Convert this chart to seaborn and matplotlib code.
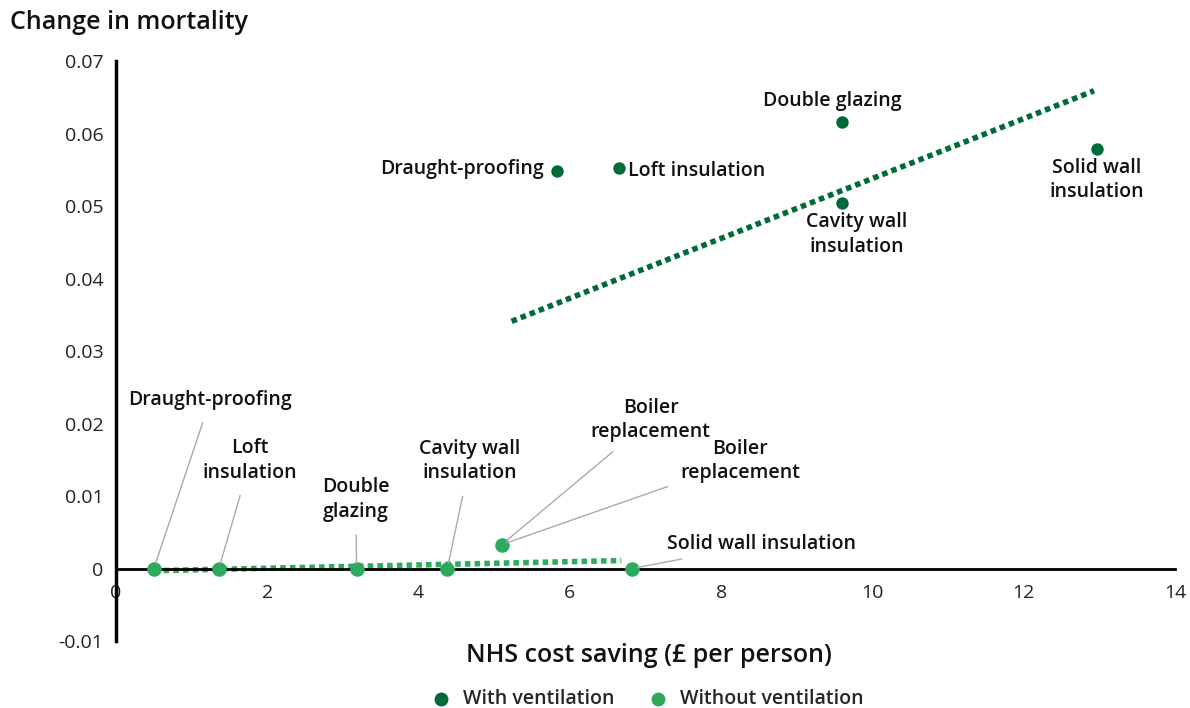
import pandas as pd
import seaborn as sns
import matplotlib.pyplot as plt

# measures
with_names = ['Draught-proofing', 'Loft insulation', 'Double glazing',
              'Cavity wall insulation', 'Solid wall insulation']
with_cost = [5.83, 6.65, 9.60, 9.60, 12.97]
with_mort = [0.0548, 0.0552, 0.0616, 0.0504, 0.0579]

without_names = ['Draught-proofing', 'Loft insulation', 'Double glazing',
                 'Cavity wall insulation', 'Boiler replacement', 'Solid wall insulation']
without_cost = [0.50, 1.36, 3.18, 4.38, 5.10, 6.82]
without_mort = [0.0, 0.0, 0.0, 0.0, 0.0033, 0.0]

# trend lines (end points)
with_trend_x = [5.23, 12.93]
with_trend_y = [0.0341, 0.0659]
without_trend_x = [0.50, 6.68]
without_trend_y = [-0.0003, 0.0011]

x_ticks = [0, 2, 4, 6, 8, 10, 12, 14]
y_ticks = [-0.01, 0, 0.01, 0.02, 0.03, 0.04, 0.05, 0.06, 0.07]
y_tick_labels = ['-0.01', '0', '0.01', '0.02', '0.03', '0.04', '0.05', '0.06', '0.07']

DARK = '#006a38'
LIGHT = '#2eaa5e'

df = pd.concat([
    pd.DataFrame({'cost': with_cost, 'mort': with_mort, 'name': with_names,
                  'group': 'With ventilation'}),
    pd.DataFrame({'cost': without_cost, 'mort': without_mort, 'name': without_names,
                  'group': 'Without ventilation'}),
], ignore_index=True)

sns.set_style('white')
plt.rcParams['font.family'] = ['Open Sans', 'DejaVu Sans']

fig = plt.figure(figsize=(11.9, 7.08), dpi=100)
ax = fig.add_axes([0.0975, 0.0946, 0.8899, 0.8192])

# trend lines
ax.plot(with_trend_x, with_trend_y, color=DARK, lw=4, linestyle=(0, (1, 0.75)),
        solid_capstyle='butt', zorder=2)
ax.plot(without_trend_x, without_trend_y, color=LIGHT, lw=4, linestyle=(0, (1, 0.75)),
        solid_capstyle='butt', zorder=2)

sns.scatterplot(data=df[df.group == 'With ventilation'], x='cost', y='mort',
                color=DARK, s=80, linewidth=0, ax=ax, zorder=3,
                label='With ventilation')
sns.scatterplot(data=df[df.group == 'Without ventilation'], x='cost', y='mort',
                color=LIGHT, s=110, linewidth=0, ax=ax, zorder=3,
                label='Without ventilation')

ax.set_xlim(0, 14)
ax.set_ylim(-0.01, 0.07)
ax.set_xticks(x_ticks)
ax.set_xticklabels([str(t) for t in x_ticks])
ax.set_yticks(y_ticks)
ax.set_yticklabels(y_tick_labels)
ax.tick_params(axis='both', length=0, labelsize=14, colors='#222222')
ax.tick_params(axis='x', pad=11)
ax.tick_params(axis='y', pad=9)
ax.set_xlabel('')
ax.set_ylabel('')

for s in ['top', 'right']:
    ax.spines[s].set_visible(False)
ax.spines['bottom'].set_position(('data', 0))
ax.spines['left'].set_position(('data', 0))
ax.spines['bottom'].set_linewidth(2)
ax.spines['left'].set_linewidth(2.5)
ax.spines['bottom'].set_color('black')
ax.spines['left'].set_color('black')

lab_kw = dict(fontsize=14, fontweight='semibold', color='#111111')

# labels for with-ventilation points (placed next to the dots)
with_label_text = ['Draught-proofing', 'Loft insulation', 'Double glazing',
                   'Cavity wall\ninsulation', 'Solid wall\ninsulation']
with_label_pos = [(-0.17, 0.0003, 'right'), (0.12, -0.0003, 'left'), (-0.13, 0.0029, 'center'),
                  (0.19, -0.0043, 'center'), (0.0, -0.0043, 'center')]
for i, (dx, dy, ha) in enumerate(with_label_pos):
    ax.text(with_cost[i] + dx, with_mort[i] + dy, with_label_text[i], ha=ha,
            va='center', linespacing=1.3, **lab_kw)

# callouts for without-ventilation points
without_label_text = ['Draught-proofing', 'Loft\ninsulation', 'Double\nglazing',
                      'Cavity wall\ninsulation', 'Boiler\nreplacement', 'Boiler\nreplacement',
                      'Solid wall insulation']
without_label_idx = [0, 1, 2, 3, 4, 4, 5]
without_label_pos = [(1.245, 0.0232, 'center'), (1.775, 0.0149, 'center'),
                     (3.17, 0.0095, 'center'), (4.68, 0.0148, 'center'),
                     (7.07, 0.0205, 'center'), (8.25, 0.0148, 'center'),
                     (7.28, 0.0034, 'left')]
for txt, idx, (tx, ty, ha) in zip(without_label_text, without_label_idx, without_label_pos):
    ax.annotate(txt, xy=(without_cost[idx], without_mort[idx]), xytext=(tx, ty),
                ha=ha, va='center', linespacing=1.3,
                arrowprops=dict(arrowstyle='-', color='#aaaaaa', lw=1,
                                shrinkA=7, shrinkB=4),
                **lab_kw)

fig.text(0.008, 0.968, 'Change in mortality', fontsize=18, fontweight='semibold',
         color='#111111', ha='left', va='center')
fig.text(0.545, 0.074, 'NHS cost saving (£ per person)', fontsize=18,
         fontweight='semibold', color='#111111', ha='center', va='center')

ax.get_legend().remove()
handles, labels = ax.get_legend_handles_labels()
leg = fig.legend(handles, labels, loc='center', bbox_to_anchor=(0.54, 0.013), ncol=2,
                 frameon=False, handletextpad=0.15, columnspacing=1.2,
                 prop={'weight': 'semibold', 'size': 14})
for h in leg.legend_handles:
    h.set_sizes([100])

fig.savefig('out.png', dpi=100)
